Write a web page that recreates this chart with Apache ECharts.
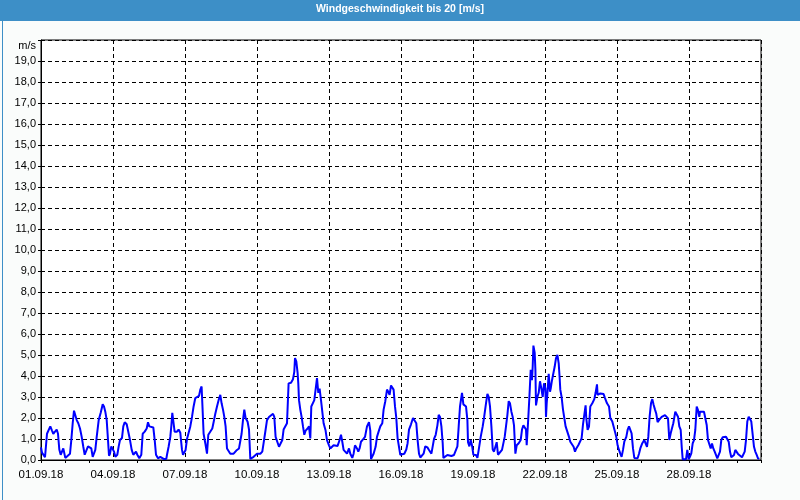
<!DOCTYPE html>
<html><head><meta charset="utf-8">
<script src="https://cdn.jsdelivr.net/npm/echarts@6/dist/echarts.min.js"></script>
<style>html,body{margin:0;padding:0;background:#fafcfb}#c{width:800px;height:500px}</style>
</head><body><div id="c"></div>
<script>
// hours since 01.09.18 00:00
const hours = [0.0,1.0,3.0,4.0,5.3,6.0,8.0,9.3,11.0,12.3,14.0,15.7,17.0,18.3,19.7,21.0,22.3,23.7,24.3,26.3,29.0,30.3,31.7,33.0,34.3,35.7,37.3,39.0,40.7,42.3,43.7,45.7,47.0,49.0,50.3,51.7,53.3,54.3,55.7,57.7,59.7,61.7,63.0,64.3,65.7,67.0,68.0,69.0,70.3,71.7,73.0,74.3,76.3,77.7,79.0,81.0,82.3,83.7,85.7,87.7,89.0,90.7,92.3,95.0,96.3,98.3,100.3,101.7,103.7,105.7,107.0,108.3,109.7,112.3,113.7,115.0,117.0,
119.3,121.3,122.6,125.3,126.0,127.6,129.3,130.3,131.3,132.6,133.6,136.0,137.6,139.3,140.0,141.0,142.0,143.3,144.6,146.0,148.0,149.3,151.0,152.6,154.3,156.0,158.0,159.3,160.6,161.6,162.6,164.3,166.0,167.3,169.3,171.3,172.6,174.3,176.0,177.6,179.3,180.6,182.0,183.3,184.6,186.0,187.6,189.3,191.0,192.6,195.3,198.0,199.3,200.6,202.0,203.3,204.6,206.6,208.0,209.3,210.6,212.6,214.6,216.0,219.3,221.3,222.6,224.0,226.0,228.0,230.0,232.0,233.3,234.6,236.0,238.0,239.3,241.3,242.6,244.6,246.0,247.6,250.0,252.0,253.3,
254.0,255.3,256.6,257.3,258.0,259.3,260.6,262.0,263.3,264.6,266.6,268.0,269.3,270.3,272.0,273.3,274.6,276.0,277.3,278.6,280.0,281.3,282.6,284.6,286.0,288.0,289.3,291.3,292.6,294.6,296.6,298.6,300.0,301.3,302.6,304.6,306.0,308.0,309.3,311.3,312.6,314.0,316.0,317.3,318.6,320.0,322.0,324.0,326.0,328.0,329.3,330.0,331.3,332.6,334.6,336.0,337.6,339.3,341.3,342.6,344.3,346.0,347.3,348.6,350.0,351.3,352.6,354.0,355.3,356.6,358.0,359.3,361.3,363.3,365.3,366.6,368.0,370.0,372.0,374.0,375.3,376.6,378.0,379.3,381.3,382.6,384.3,
386.4,387.7,389.0,390.4,391.7,393.0,394.7,396.4,397.7,399.0,400.4,401.7,402.4,404.4,406.4,408.4,410.4,413.0,415.0,416.4,417.7,419.0,420.4,421.0,422.4,423.7,425.0,426.4,427.0,428.4,429.7,431.0,432.4,433.7,435.0,436.4,437.7,439.7,441.7,443.0,445.0,446.4,447.7,449.0,450.4,451.7,453.0,455.0,455.7,457.0,459.0,461.0,462.4,463.7,465.0,466.4,467.7,469.0,470.4,471.7,473.0,474.4,475.7,477.7,479.7,481.0,482.4,483.7,485.0,485.7,487.0,488.4,489.7,491.0,491.7,492.4,493.7,494.4,495.0,496.4,497.7,499.0,500.4,501.7,503.0,504.4,505.0,505.7,506.4,507.7,509.0,509.7,511.0,512.4,513.7,515.0,516.4,517.7,518.6,
519.3,520.6,522.0,523.3,524.6,526.6,528.0,529.3,531.3,532.6,534.0,535.3,537.3,539.3,540.6,542.0,543.3,544.6,545.3,546.6,548.0,549.3,551.3,553.3,554.6,556.0,556.6,558.0,559.3,561.3,562.6,564.0,566.0,568.0,569.3,571.3,572.6,574.0,575.3,576.6,578.0,579.3,580.6,582.0,583.3,585.3,586.6,588.0,589.3,590.6,592.0,593.3,594.6,596.6,598.0,599.3,601.3,603.3,604.6,606.0,607.3,608.6,610.0,611.3,612.6,614.0,615.3,616.6,618.0,
619.0,620.7,622.3,624.0,625.7,627.0,628.3,629.7,631.0,632.3,633.7,634.3,635.7,637.0,638.3,639.7,640.7,641.7,643.0,645.0,646.3,647.0,647.7,649.0,650.3,651.7,653.0,654.3,655.7,657.0,658.3,659.0,661.0,663.0,664.3,665.7,667.0,668.3,669.7,671.0,672.3,673.7,675.0,676.3,677.7,679.0,680.3,681.7,683.0,685.0,686.3,687.7,689.0,690.3,691.7,693.0,694.3,695.7,697.0,699.0,701.0,702.3,703.7,705.0,706.3,707.7,709.0,710.3,711.7,713.0,714.3,715.7,717.0,718.3];
// wind speed m/s
const speeds = [0.6,0.35,0.35,0.13,0.12,1.25,1.25,1.6,1.4,1.25,1.35,1.45,1.25,0.5,0.25,0.3,0.55,0.48,0.1,0.05,0.3,0.95,1.75,2.35,2.3,1.9,1.75,1.5,1.1,0.63,0.25,0.2,0.65,0.63,0.55,0.15,0.2,0.48,1.1,1.9,2.25,2.65,2.55,2.3,1.9,0.95,0.2,0.3,0.65,0.63,0.4,0.15,0.25,0.65,0.95,1.05,1.6,1.8,1.7,1.25,0.95,0.48,0.25,0.4,0.25,0.08,0.25,1.25,1.35,1.5,1.8,1.6,1.55,1.55,0.95,0.25,0.08,
0.15,0.15,0.05,0.05,0.25,0.63,1.1,1.6,2.25,1.75,1.35,1.35,1.45,1.3,0.95,0.48,0.25,0.3,0.48,1.0,1.03,1.6,2.05,2.55,2.95,3.0,3.05,3.35,3.5,2.4,1.25,0.8,0.3,1.2,1.25,1.5,1.8,2.2,2.55,2.85,3.1,2.7,2.4,2.05,1.6,0.55,0.48,0.3,0.25,0.3,0.45,0.55,0.55,1.25,1.9,2.4,2.0,1.82,1.45,0.05,0.05,0.15,0.2,0.3,0.3,0.4,0.8,1.25,1.9,2.05,2.08,2.2,2.05,1.1,1.03,0.63,0.55,0.95,1.45,1.52,1.75,3.65,3.68,3.85,4.2,
4.85,4.7,4.15,3.65,2.85,2.4,2.05,1.6,1.2,1.4,1.5,1.6,1.03,2.55,2.62,2.85,3.35,3.9,3.2,3.4,2.85,2.3,1.75,1.4,0.95,0.7,0.55,0.63,0.7,0.63,0.67,0.95,1.2,0.87,0.48,0.48,0.3,0.55,0.3,0.1,0.3,0.7,0.55,0.4,0.55,0.87,0.98,1.1,1.6,1.8,1.4,0.05,0.05,0.3,0.63,1.1,1.35,1.6,1.75,2.4,2.8,3.35,3.25,3.1,3.55,3.5,3.35,2.55,2.0,1.03,1.1,0.25,0.25,0.3,0.5,0.8,1.45,1.7,2.0,2.0,1.75,0.95,0.3,0.12,0.15,0.3,0.65,
0.6,0.5,0.55,0.3,0.65,1.0,1.2,1.65,2.15,2.05,1.6,0.8,0.1,0.13,0.24,0.29,0.19,0.24,0.29,0.65,1.6,2.55,2.6,3.2,2.65,2.6,2.55,1.9,0.85,0.65,0.95,0.7,0.25,0.16,0.24,0.1,0.48,1.1,1.6,2.0,2.7,3.15,3.0,2.55,1.6,0.5,0.4,0.4,0.85,0.25,0.32,0.48,0.55,1.1,1.6,2.15,2.8,2.7,2.3,2.05,1.65,0.3,0.7,0.8,0.95,1.45,1.65,1.6,1.45,0.7,1.75,3.0,4.3,3.8,4.45,5.45,5.1,4.3,2.6,3.0,3.2,3.75,3.4,3.0,3.65,3.4,2.05,2.7,3.15,4.1,3.25,3.4,3.8,3.73,4.45,4.85,5.0,4.6,3.95,
3.35,3.0,2.4,2.0,1.6,1.52,1.1,0.87,0.87,0.63,0.4,0.55,0.7,0.79,1.03,1.7,1.75,2.6,1.98,1.43,1.59,2.55,2.7,2.9,3.2,3.6,3.1,3.17,3.17,3.17,3.14,2.95,2.7,2.55,2.0,1.83,1.6,1.35,1.1,0.7,0.48,0.3,0.15,0.48,0.87,1.1,1.43,1.6,1.62,1.27,0.55,0.1,0.05,0.08,0.3,0.55,0.8,0.95,0.92,0.63,1.1,2.05,2.7,2.9,2.63,2.4,2.2,1.8,1.9,
1.95,2.05,2.08,2.14,2.2,1.98,0.95,1.27,1.27,1.75,1.83,2.3,2.22,2.06,1.6,1.43,0.63,0.03,0.03,0.03,0.48,0.56,0.03,0.16,0.32,0.79,0.95,1.43,2.54,2.38,2.06,2.3,2.3,2.3,2.22,1.67,0.95,0.87,0.55,0.79,0.55,0.4,0.48,0.08,0.03,0.4,0.95,1.08,1.11,1.11,1.03,0.87,0.4,0.13,0.08,0.24,0.48,0.4,0.29,0.24,0.13,0.08,0.4,0.95,1.83,2.06,1.95,1.83,1.75,0.63,0.4,0.24,0.08,0.05];
const dateLabels = ['01.09.18','04.09.18','07.09.18','10.09.18','13.09.18','16.09.18','19.09.18','22.09.18','25.09.18','28.09.18'];
const titleText = 'Windgeschwindigkeit bis 20 [m/s]';
const unitText = 'm/s';

const chart = echarts.init(document.getElementById('c'), null, {renderer: 'canvas'});
const font = 'Liberation Sans';
chart.setOption({
  backgroundColor: '#fafcfb',
  animation: false,
  grid: {left: 41, right: 39, top: 40, bottom: 40, show: true, backgroundColor: '#ffffff', borderColor: '#000', borderWidth: 1},
  xAxis: {
    type: 'value', min: 0, max: 720, interval: 72,
    axisLine: {show: true, lineStyle: {color: '#000', width: 1}},
    axisTick: {show: true, length: 3, lineStyle: {color: '#000'}},
    minorTick: {show: true, splitNumber: 3, length: 3, lineStyle: {color: '#000'}},
    splitLine: {show: true, lineStyle: {color: '#000', type: [4, 3], width: 1}},
    axisLabel: {margin: 9, color: '#000', fontFamily: font, fontSize: 11.5,
      formatter: v => { const i = Math.round(v / 72); return dateLabels[i] || ''; }}
  },
  yAxis: {
    type: 'value', min: 0, max: 20, interval: 1,
    axisLine: {show: true, lineStyle: {color: '#000', width: 1}},
    axisTick: {show: true, length: 3, lineStyle: {color: '#000'}},
    splitLine: {show: true, lineStyle: {color: '#000', type: [4, 3], width: 1}},
    axisLabel: {margin: 5, color: '#000', fontFamily: font, fontSize: 11,
      formatter: v => v >= 20 ? '' : v.toFixed(1).replace('.', ',')}
  },
  series: [{
    type: 'line', showSymbol: false, symbol: 'none',
    lineStyle: {color: '#0000ff', width: 2},
    data: hours.map((h, i) => [h, speeds[i]])
  }],
  graphic: [
    {type: 'rect', left: 0, top: 0, shape: {width: 800, height: 21}, style: {fill: '#3d8fc7'}, z: 10},
    {type: 'text', left: 'center', top: 4, style: {text: titleText, fill: '#ffffff', font: 'bold 10.5px "Liberation Sans"'}, z: 11},
    {type: 'rect', left: 0, top: 0, shape: {x: 0.5, y: 0.5, width: 799, height: 499}, style: {fill: null, stroke: '#3d8fc7', lineWidth: 1}, z: 10},
    {type: 'text', right: 764, top: 40, style: {text: unitText, fill: '#000', font: '11px "Liberation Sans"', textAlign: 'right'}, z: 11}
  ]
});
</script></body></html>
